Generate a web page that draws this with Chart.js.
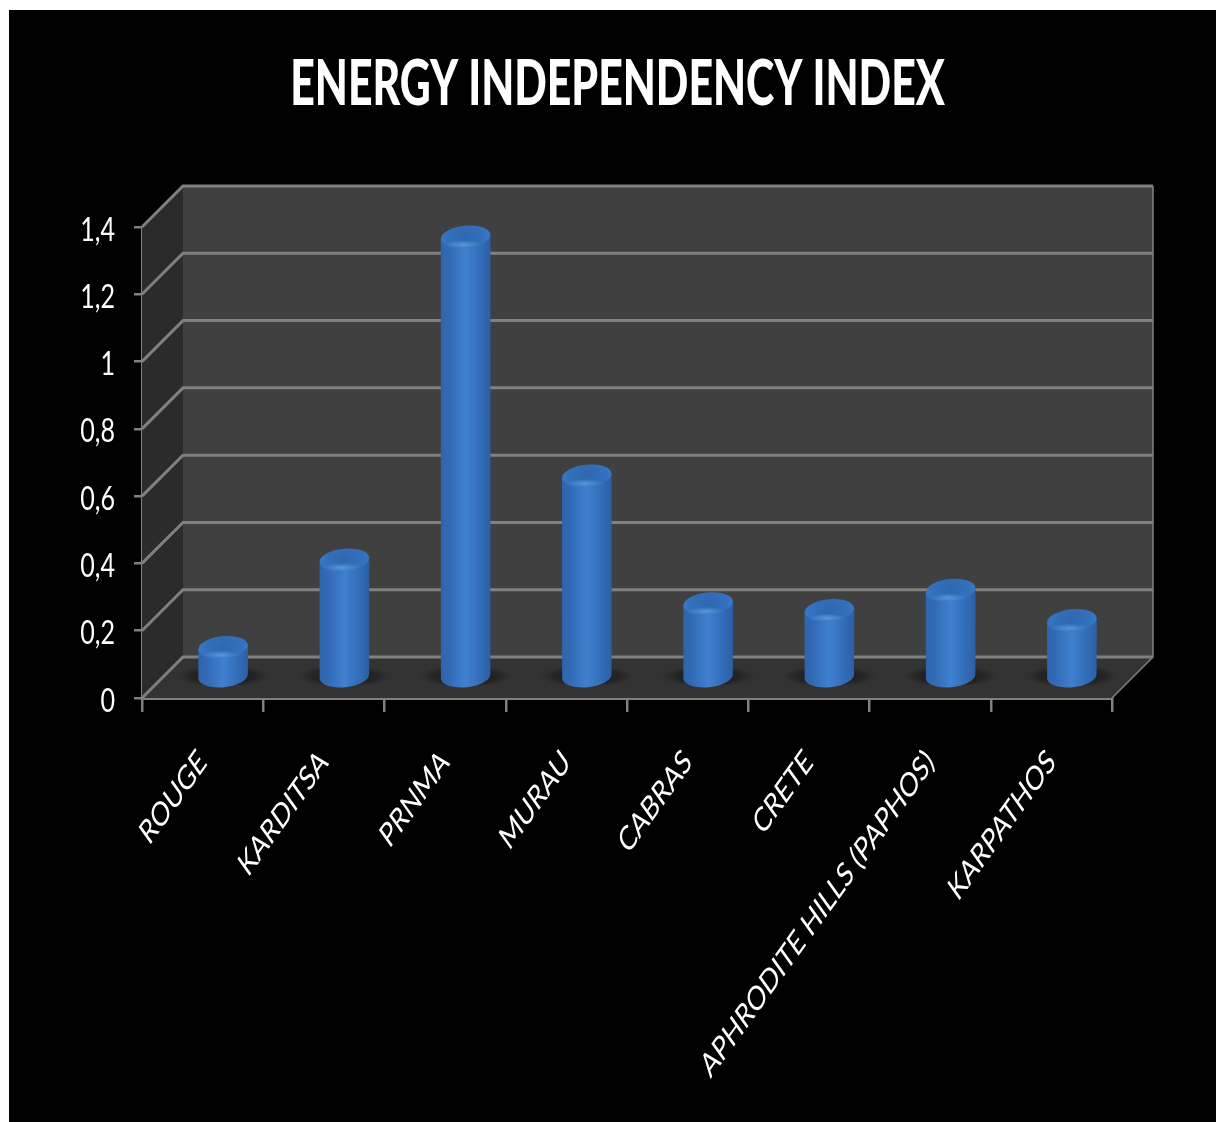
<!DOCTYPE html>
<html>
<head>
<meta charset="utf-8">
<title>Energy Independency Index</title>
<script src="https://cdn.jsdelivr.net/npm/chart.js@4"></script>
<style>
  html, body { margin: 0; padding: 0; background: #fff; overflow: hidden; }
  #energyChart { position: absolute; left: 9px; top: 10px; background: #000; }
</style>
</head>
<body>
<canvas id="energyChart" width="1207" height="1112"></canvas>
<script>
var categories = ['ROUGE', 'KARDITSA', 'PRNMA', 'MURAU', 'CABRAS', 'CRETE', 'APHRODITE HILLS (PAPHOS)', 'KARPATHOS'];
var indexValues = [0.09, 0.35, 1.31, 0.6, 0.22, 0.2, 0.26, 0.17];
var yTickLabels = ['0', '0,2', '0,4', '0,6', '0,8', '1', '1,2', '1,4'];

var FONT = 'Lato, "Open Sans", sans-serif';
var DEPTH_X = 41, DEPTH_Y = -41;
var LINE = '#808080';
var X_LABEL_PAD = 30;
var Y_LABEL_PAD = 19;

// wraps a draw method so its text comes out squeezed or stretched about one point
function stretchDraw(chart, target, method, sx, sy, ox, oy, shiftY) {
    var original = target[method];
    target[method] = function (arg) {
        var ctx = chart.ctx;
        ctx.save();
        ctx.translate(ox, oy + (shiftY || 0));
        ctx.scale(sx, sy);
        ctx.translate(-ox, -oy);
        original.call(this, arg);
        ctx.restore();
    };
}

// back wall, side wall, floor and their grid lines, all hung off the y scale
var wallsPlugin = {
    id: 'walls',
    afterLayout: function (chart) {
        var x = chart.scales.x, y = chart.scales.y;
        var title = chart.titleBlock;
        // centre the title on the whole canvas, not just what is left of the right padding
        title.left = 10;
        title.right = chart.width;
        stretchDraw(chart, title, 'draw', 0.69, 1, (title.left + title.right) / 2, 0, 2);
        stretchDraw(chart, y, 'drawLabels', 0.76, 1, y.right - 8 - Y_LABEL_PAD, 0, 3);
        stretchDraw(chart, x, 'drawLabels', 1, 1.4, 0, x.top + 14 + X_LABEL_PAD);
    },
    beforeDatasetsDraw: function (chart) {
        var ctx = chart.ctx, x = chart.scales.x, y = chart.scales.y;
        var l = x.left, r = x.right, b = y.getPixelForValue(y.min), t = y.getPixelForValue(y.max);

        ctx.save();
        ctx.fillStyle = '#404040';
        ctx.fillRect(l + DEPTH_X, t + DEPTH_Y, r - l, b - t);

        ctx.fillStyle = '#2b2b2b';
        ctx.beginPath();
        ctx.moveTo(l, t);
        ctx.lineTo(l + DEPTH_X, t + DEPTH_Y);
        ctx.lineTo(l + DEPTH_X, b + DEPTH_Y);
        ctx.lineTo(l, b);
        ctx.closePath();
        ctx.fill();

        ctx.fillStyle = '#333333';
        ctx.beginPath();
        ctx.moveTo(l, b);
        ctx.lineTo(l + DEPTH_X, b + DEPTH_Y);
        ctx.lineTo(r + DEPTH_X, b + DEPTH_Y);
        ctx.lineTo(r, b);
        ctx.closePath();
        ctx.fill();

        ctx.strokeStyle = LINE;
        ctx.lineWidth = 3;
        y.ticks.forEach(function (tick) {
            var py = y.getPixelForValue(tick.value);
            ctx.beginPath();
            ctx.moveTo(l, py);
            ctx.lineTo(l + DEPTH_X, py + DEPTH_Y);
            ctx.lineTo(r + DEPTH_X, py + DEPTH_Y);
            ctx.stroke();
        });

        // outer edges on the right
        ctx.lineWidth = 1.5;
        ctx.beginPath();
        ctx.moveTo(r + DEPTH_X, t + DEPTH_Y);
        ctx.lineTo(r + DEPTH_X, b + DEPTH_Y);
        ctx.lineTo(r, b);
        ctx.stroke();
        ctx.restore();
    },
    beforeDatasetDraw: function (chart, args) {
        var ctx = chart.ctx;
        var bars = chart.getDatasetMeta(args.index).data;
        bars.forEach(function (bar) { drawShadow(ctx, bar); });
        bars.forEach(function (bar) { drawCylinder(ctx, bar); });
        return false;
    }
};

function drawShadow(ctx, bar) {
    var cx = bar.x + DEPTH_X / 2, cy = bar.base + DEPTH_Y / 2;
    ctx.save();
    // nothing below the cylinder's own foot
    ctx.beginPath();
    ctx.rect(cx - 60, cy - 14, 120, 23);
    ctx.clip();
    ctx.translate(cx, cy);
    ctx.scale(1, 0.24);
    var g = ctx.createRadialGradient(0, 0, 14, 0, 0, 48);
    g.addColorStop(0, 'rgba(18,18,18,0.75)');
    g.addColorStop(0.6, 'rgba(24,24,24,0.5)');
    g.addColorStop(1, 'rgba(40,40,40,0)');
    ctx.fillStyle = g;
    ctx.beginPath();
    ctx.arc(0, 0, 48, 0, Math.PI * 2);
    ctx.fill();
    ctx.restore();
}

function drawCylinder(ctx, bar) {
    var rx = bar.width / 2, ry = 11, tilt = -0.1;
    var cx = bar.x + DEPTH_X / 2;
    var top = bar.y + DEPTH_Y / 2, bottom = bar.base + DEPTH_Y / 2;
    var dy = Math.sin(-tilt) * rx;

    var side = ctx.createLinearGradient(cx - rx, 0, cx + rx, 0);
    side.addColorStop(0, '#2d65ad');
    side.addColorStop(0.15, '#3169b3');
    side.addColorStop(0.5, '#3f80cf');
    side.addColorStop(0.85, '#3169b3');
    side.addColorStop(1, '#2b5fa5');

    // body: lower half of the base ellipse, up the sides to the cap
    ctx.save();
    ctx.fillStyle = side;
    ctx.beginPath();
    ctx.ellipse(cx, bottom, rx, ry, tilt, 0, Math.PI);
    ctx.lineTo(cx - rx, top + dy);
    ctx.lineTo(cx + rx, top - dy);
    ctx.closePath();
    ctx.fill();

    // cap, darker in the middle
    ctx.beginPath();
    ctx.ellipse(cx, top, rx, ry, tilt, 0, Math.PI * 2);
    var cap = ctx.createRadialGradient(cx, top, 2, cx, top, rx);
    cap.addColorStop(0, '#2f69b0');
    cap.addColorStop(0.7, '#3371bd');
    cap.addColorStop(1, '#3878c8');
    ctx.fillStyle = cap;
    ctx.fill();

    // soft highlight on the front of the rim
    ctx.clip();
    ctx.translate(cx - 2, top + ry - 3);
    ctx.scale(1, 0.25);
    var rim = ctx.createRadialGradient(0, 0, 0, 0, 0, rx * 0.75);
    rim.addColorStop(0, 'rgba(100,165,235,0.75)');
    rim.addColorStop(1, 'rgba(100,165,235,0)');
    ctx.fillStyle = rim;
    ctx.beginPath();
    ctx.arc(0, 0, rx * 0.75, 0, Math.PI * 2);
    ctx.fill();
    ctx.restore();
}

var ctx = document.getElementById('energyChart').getContext('2d');
var energyChart = new Chart(ctx, {
    type: 'bar',
    data: {
        labels: categories,
        datasets: [{
            label: 'Energy independency index',
            data: indexValues,
            backgroundColor: '#3a7acb',
            categoryPercentage: 1,
            barPercentage: 0.41
        }]
    },
    options: {
        responsive: false,
        animation: false,
        layout: { padding: { left: 0, right: 104, top: 0, bottom: 0 } },
        plugins: {
            legend: { display: false },
            tooltip: { enabled: false },
            title: {
                display: true,
                text: 'ENERGY INDEPENDENCY INDEX',
                color: '#ffffff',
                font: { family: FONT, size: 62, weight: 900, lineHeight: 1 },
                padding: { top: 42, bottom: 113 }
            }
        },
        scales: {
            x: {
                afterFit: function (scale) { scale.height = 424; },
                grid: { drawOnChartArea: false, drawTicks: true, tickLength: 14, color: LINE, lineWidth: 2.5 },
                border: { color: LINE, width: 3 },
                ticks: {
                    color: '#ffffff',
                    font: { family: FONT, size: 24 },
                    autoSkip: false,
                    minRotation: 45,
                    maxRotation: 45,
                    padding: X_LABEL_PAD
                }
            },
            y: {
                min: 0,
                max: 1.4,
                afterFit: function (scale) { scale.width = 133; },
                afterBuildTicks: function (scale) {
                    scale.ticks = yTickLabels.map(function (t, i) { return { value: i * 0.2 }; });
                },
                grid: { drawOnChartArea: false, drawTicks: true, tickLength: 8, color: LINE, lineWidth: 2.5 },
                border: { color: LINE, width: 2.5 },
                ticks: {
                    color: '#ffffff',
                    font: { family: FONT, size: 33 },
                    padding: Y_LABEL_PAD,
                    callback: function (value, i) { return yTickLabels[i]; }
                }
            }
        }
    },
    plugins: [wallsPlugin]
});
</script>
</body>
</html>
